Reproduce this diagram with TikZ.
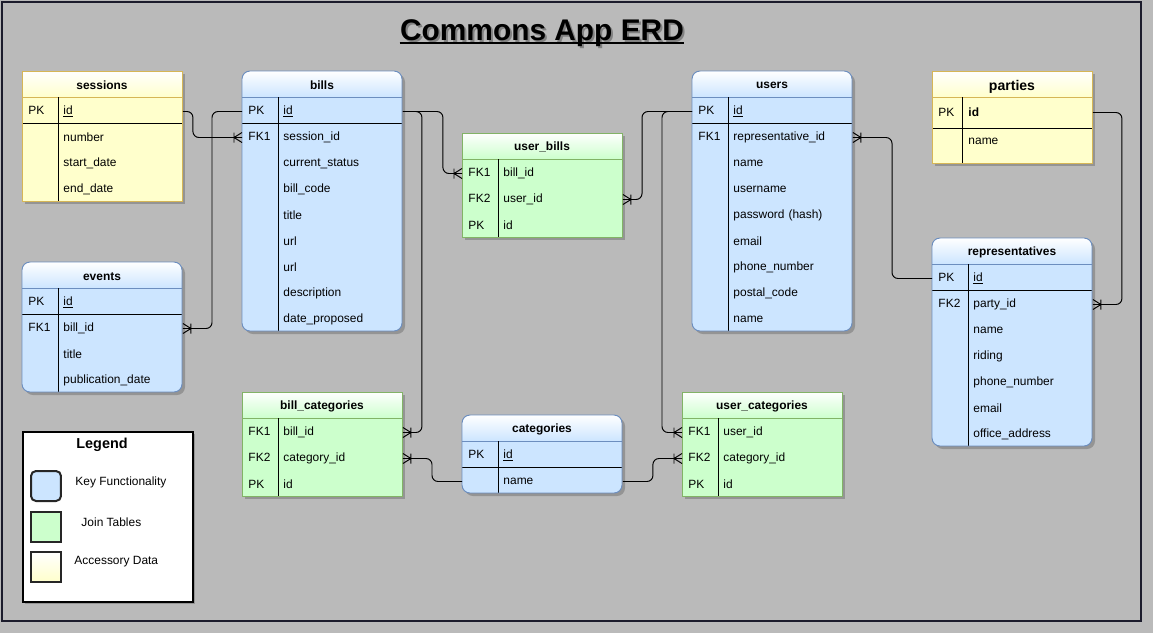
\documentclass[tikz,border=0pt]{standalone}
\usepackage{fontspec}
\setmainfont{Liberation Sans}
\usetikzlibrary{calc,decorations.markings}
\definecolor{canvas}    {HTML}{BABABA}
\definecolor{frame}     {HTML}{1C1C2C}
\definecolor{bluefill}  {HTML}{CCE5FF}
\definecolor{blueline}  {HTML}{6C8EBF}
\definecolor{greenfill} {HTML}{CCFFCC}
\definecolor{greenline} {HTML}{82B366}
\definecolor{yellowfill}{HTML}{FFFFCC}
\definecolor{yellowline}{HTML}{D6B656}
\newcommand{\fieldfont}{\fontsize{6.8}{8}\selectfont}
\tikzset{
  bluecorner/.style  ={rounded corners=0.16cm},
  greencorner/.style ={sharp corners},
  yellowcorner/.style={sharp corners},
  bluesep/.style     ={draw=black},
  greensep/.style    ={draw=none},
  yellowsep/.style   ={draw=black},
  dropshade/.style   ={fill=black, opacity=0.2},
  tblhead/.style     ={font=\bfseries\fieldfont, inner sep=0pt, yshift=-0.025cm},
  field/.style       ={anchor=west, minimum width=3.2cm, minimum height=0.52cm,
                       text width=2.96cm, inner xsep=0.12cm, inner ysep=0pt,
                       align=left, font=\fieldfont, yshift=-0.03cm},
  swatch/.style      ={draw=black!85, line width=0.04cm, minimum size=0.6cm,
                       inner sep=0pt},
  legendtext/.style  ={anchor=west, inner sep=0pt, font=\fieldfont},
  rel/.style         ={rounded corners=0.12cm, postaction={decorate},
                       decoration={markings, mark=at position 0 with {
                         \draw[sharp corners]
                           (0cm,0.1cm) -- (0.16cm,0cm) -- (0cm,-0.1cm)
                           (0.16cm,0.1cm) -- (0.16cm,-0.1cm);}}},
}
% #1 name, #2 header text, #3 left, #4 top, #5 rows, #6 kind, #7 key/field list
\newcommand{\erdtable}[7]{%
  \pgfmathsetmacro\erdbottom{#4+26+26*#5}%
  \fill[dropshade,#6corner] (#3+3,#4+3) rectangle (#3+163,\erdbottom+3);
  \begin{scope}
    \clip[#6corner] (#3,#4) rectangle (#3+160,\erdbottom);
    \fill[#6fill] (#3,#4) rectangle (#3+160,\erdbottom);
    \shade[top color=white, bottom color=#6fill] (#3,#4) rectangle (#3+160,#4+26);
  \end{scope}
  \draw[#6line] (#3,#4+26) -- (#3+160,#4+26);
  \path[#6sep] (#3,#4+52) -- (#3+160,#4+52);
  \draw (#3+36,#4+26) -- (#3+36,\erdbottom);
  \draw[#6line,#6corner] (#3,#4) rectangle (#3+160,\erdbottom);
  \node[tblhead] (#1) at (#3+80,#4+13) {#2};
  \foreach \k/\f [count=\i] in {#7}
    \node[field] (#1-\i) at (#3,#4+13+26*\i) {\makebox[0.7cm][l]{\k}\f};
}
\begin{document}
\begin{tikzpicture}[x=0.02cm,y=-0.02cm,line width=0.55pt]
  \useasboundingbox (0,0) rectangle (1153,633);
  \fill[canvas] (0,0) rectangle (1153,633);
  \draw[frame, line width=0.04cm] (2,2) rectangle (1141,621);

  % title
  \node[font=\bfseries\fontsize{17}{20}\selectfont, inner sep=0pt, anchor=base,
        text=black, opacity=0.3] (titleshade) at (544,42) {Commons App ERD};
  \node[font=\bfseries\fontsize{17}{20}\selectfont, inner sep=0pt, anchor=base]
        (title) at (542,40) {Commons App ERD};
  \draw[line width=0.045cm] ([yshift=-0.066cm]title.base west)
                          -- ([yshift=-0.066cm]title.base east);

  % tables
  \erdtable{sessions}{sessions}{22}{71}{4}{yellow}{PK/\underline{id}, {}/number,
    {}/start\_date, {}/end\_date}
  \erdtable{bills}{bills}{242}{71}{9}{blue}{PK/\underline{id}, FK1/session\_id,
    {}/current\_status, {}/bill\_code, {}/title, {}/url, {}/url, {}/description,
    {}/date\_proposed}
  \erdtable{events}{events}{22}{262}{4}{blue}{PK/\underline{id}, FK1/bill\_id,
    {}/title, {}/publication\_date}
  \erdtable{userbills}{user\_bills}{462}{133}{3}{green}{FK1/bill\_id,
    FK2/user\_id, PK/id}
  \erdtable{users}{users}{692}{71}{9}{blue}{PK/\underline{id},
    FK1/representative\_id, {}/name, {}/username, {}/password (hash), {}/email,
    {}/phone\_number, {}/postal\_code, {}/name}
  \erdtable{reps}{representatives}{932}{238}{7}{blue}{PK/\underline{id},
    FK2/party\_id, {}/name, {}/riding, {}/phone\_number, {}/email,
    {}/office\_address}
  \erdtable{billcats}{bill\_categories}{242}{392}{3}{green}{FK1/bill\_id,
    FK2/category\_id, PK/id}
  \erdtable{cats}{categories}{462}{415}{2}{blue}{PK/\underline{id}, {}/name}
  \erdtable{usercats}{user\_categories}{682}{392}{3}{green}{FK1/user\_id,
    FK2/category\_id, PK/id}

  % parties has its own row heights
  \fill[dropshade] (935,74) rectangle (1095,166);
  \fill[yellowfill] (932,71) rectangle (1092,163);
  \shade[top color=white, bottom color=yellowfill] (932,71) rectangle (1092,97);
  \draw[yellowline] (932,97) -- (1092,97);
  \draw (932,128) -- (1092,128);
  \draw (962,97) -- (962,163);
  \draw[yellowline] (932,71) rectangle (1092,163);
  \node[tblhead, font=\bfseries\fontsize{8}{9.6}\selectfont] (parties) at (1012,86) {parties};
  \node[field] (parties-1) at (932,111) {\makebox[0.6cm][l]{PK}\textbf{id}};
  \node[field] (parties-2) at (932,140) {\makebox[0.6cm][l]{}name};

  % relations
  \draw[rel] (bills-2.west) -| ([xshift=0.2cm]sessions-1.east) -- (sessions-1.east);
  \draw[rel] (events-2.east) -| ([xshift=-0.6cm]bills-1.west) -- (bills-1.west);
  \draw[rel] (userbills-1.west) -| ([xshift=0.8cm]bills-1.east) -- (bills-1.east);
  \draw[rel] (billcats-1.east) -| ([xshift=0.38cm]bills-1.east) -- (bills-1.east);
  \draw[rel] (userbills-2.east) -| ([xshift=-1cm]users-1.west) -- (users-1.west);
  \draw[rel] (usercats-1.west) -| ([xshift=-0.6cm]users-1.west) -- (users-1.west);
  \draw[rel] (users-2.east) -| ([xshift=-0.8cm]reps-1.west) -- (reps-1.west);
  \draw[rel] (reps-2.east) -| ([xshift=0.58cm]parties-1.east) -- (parties-1.east);
  \draw[rel] (billcats-2.east) -| ([xshift=-0.6cm]cats-2.west) -- (cats-2.west);
  \draw[rel] (usercats-2.west) -| ([xshift=0.6cm]cats-2.east) -- (cats-2.east);

  % legend
  \fill[dropshade] (25,434) rectangle (195,604);
  \node[draw, fill=white, line width=0.04cm, minimum width=3.4cm,
        minimum height=3.4cm, anchor=north west, inner sep=0pt] (legend) at (22,431) {};
  \node[font=\bfseries\fontsize{8.2}{10}\selectfont] (legendtitle) at (102,445) {Legend};
  \node[swatch, fill=bluefill, rounded corners=0.1cm] (keyswatch) at (46,486) {};
  \node[swatch, fill=greenfill] (joinswatch) at (46,526.5) {};
  \node[swatch, top color=white, bottom color=yellowfill] (accswatch) at (46,566.5) {};
  \node[legendtext] (keylabel) at (75,482) {Key Functionality};
  \node[legendtext] (joinlabel) at (81,522) {Join Tables};
  \node[legendtext] (acclabel) at (74,562) {Accessory Data};
\end{tikzpicture}
\end{document}
